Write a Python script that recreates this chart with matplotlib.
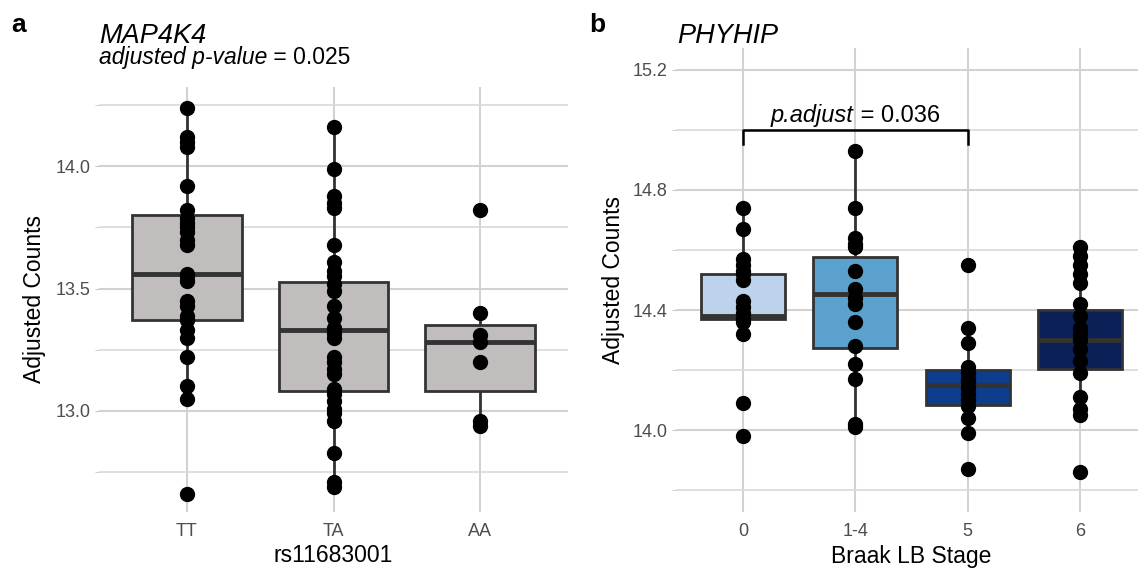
import matplotlib
matplotlib.use("Agg")
import matplotlib.pyplot as plt
from matplotlib.ticker import MultipleLocator

plt.rcParams['font.family'] = ['Liberation Sans', 'DejaVu Sans']

# panel a: MAP4K4 by rs11683001 genotype
genotypes = ['TT', 'TA', 'AA']
tt_vals = [14.24, 14.12, 14.10, 14.08, 13.92, 13.82, 13.79, 13.77, 13.75, 13.73,
           13.70, 13.68, 13.56, 13.55, 13.53, 13.45, 13.43, 13.39, 13.37, 13.33,
           13.30, 13.22, 13.10, 13.05, 12.66]
ta_vals = [14.16, 13.99, 13.88, 13.85, 13.83, 13.68, 13.61, 13.57, 13.55, 13.52,
           13.49, 13.43, 13.38, 13.34, 13.32, 13.30, 13.22, 13.20, 13.17, 13.15,
           13.09, 13.07, 13.04, 13.01, 12.99, 12.96, 12.83, 12.71, 12.69]
aa_vals = [13.82, 13.40, 13.31, 13.28, 13.20, 12.96, 12.94]
a_q1 = [13.37, 13.08, 13.08]
a_med = [13.56, 13.33, 13.28]
a_q3 = [13.80, 13.525, 13.35]
a_lo = [13.05, 12.69, 12.94]
a_hi = [14.24, 14.16, 13.40]

# panel b: PHYHIP by Braak LB stage
stages = ['0', '1-4', '5', '6']
s0_vals = [14.74, 14.67, 14.57, 14.55, 14.53, 14.52, 14.50, 14.43, 14.41, 14.39,
           14.37, 14.36, 14.32, 14.09, 13.98]
s14_vals = [14.93, 14.74, 14.64, 14.62, 14.61, 14.53, 14.47, 14.44, 14.42, 14.36,
            14.28, 14.22, 14.17, 14.02, 14.01]
s5_vals = [14.55, 14.34, 14.29, 14.21, 14.19, 14.17, 14.16, 14.14, 14.12, 14.10,
           14.08, 14.04, 13.99, 13.87]
s6_vals = [14.61, 14.58, 14.55, 14.52, 14.49, 14.42, 14.38, 14.34, 14.32, 14.30,
           14.27, 14.23, 14.19, 14.11, 14.07, 14.05, 13.86]
b_q1 = [14.37, 14.275, 14.085, 14.205]
b_med = [14.38, 14.455, 14.15, 14.30]
b_q3 = [14.52, 14.575, 14.20, 14.40]
b_lo = [14.32, 14.01, 13.99, 14.05]
b_hi = [14.74, 14.93, 14.34, 14.61]
b_fill = ['#BDD3EC', '#5BA1CD', '#0D3D8B', '#0C2058']

W, H = 1138, 569
fig = plt.figure(figsize=(W / 100, H / 100), dpi=100)


def px_axes(l, t, r, b):
    return fig.add_axes([l / W, 1 - b / H, (r - l) / W, (b - t) / H])


def style(ax, major, minor):
    ax.set_facecolor('white')
    for s in ax.spines.values():
        s.set_visible(False)
    ax.yaxis.set_major_locator(MultipleLocator(major))
    ax.yaxis.set_minor_locator(MultipleLocator(minor))
    ax.grid(True, which='major', color='#d2d2d2', lw=1.5, zorder=0)
    ax.grid(True, which='minor', axis='y', color='#d9d9d9', lw=1.2, zorder=0)
    ax.set_axisbelow(True)
    ax.tick_params(which='both', length=3, color='#c8c8c8', labelsize=13,
                   labelcolor='#4d4d4d', pad=3)
    ax.tick_params(axis='x', length=0, pad=8)
    ax.tick_params(which='minor', labelleft=False)


def boxes(ax, groups, q1, med, q3, lo, hi, fills):
    stats = []
    for i in range(len(groups)):
        stats.append(dict(q1=q1[i], med=med[i], q3=q3[i], whislo=lo[i], whishi=hi[i]))
    bp = ax.bxp(stats, positions=range(len(groups)), widths=0.75, showcaps=False,
                showfliers=False, patch_artist=True,
                boxprops=dict(edgecolor='#333333', lw=2),
                medianprops=dict(color='#333333', lw=3.5),
                whiskerprops=dict(color='#333333', lw=2))
    for patch, c in zip(bp['boxes'], fills):
        patch.set_facecolor(c)
        patch.set_zorder(2)
    for ln in bp['whiskers']:
        ln.set_zorder(1.5)
    for ln in bp['medians']:
        ln.set_zorder(2.5)


def dots(ax, groups):
    for i, vals in enumerate(groups):
        ax.plot([i] * len(vals), vals, 'o', color='black', ms=10, zorder=3)


def rich_text(x, y, parts, size, center=False):
    # lay out (text, italic) pieces one after another, in figure pixels
    renderer = fig.canvas.get_renderer()
    items = []
    for s, it in parts:
        t = fig.text(0, 0, s, fontsize=size, style='italic' if it else 'normal',
                     va='baseline')
        items.append((t, t.get_window_extent(renderer).width))
    total = sum(w for _, w in items)
    cx = x - total / 2 if center else x
    for t, w in items:
        t.set_position((cx / W, 1 - y / H))
        cx += w


# ---- panel a
ax1 = px_axes(99, 87, 568, 512)
style(ax1, 0.5, 0.25)
boxes(ax1, genotypes, a_q1, a_med, a_q3, a_lo, a_hi, ['#C1BDBC'] * 3)
dots(ax1, [tt_vals, ta_vals, aa_vals])
ax1.set_xlim(-0.6, 2.6)
ax1.set_ylim(12.587, 14.324)
ax1.set_xticks(range(3))
ax1.set_xticklabels(genotypes)
ax1.set_yticks([13.0, 13.5, 14.0])
ax1.set_yticklabels(['13.0', '13.5', '14.0'])

# ---- panel b
ax2 = px_axes(676, 48, 1147, 512)
style(ax2, 0.4, 0.2)
boxes(ax2, stages, b_q1, b_med, b_q3, b_lo, b_hi, b_fill)
dots(ax2, [s0_vals, s14_vals, s5_vals, s6_vals])
ax2.set_xlim(-0.6, 3.6)
ax2.set_ylim(13.728, 15.272)
ax2.set_xticks(range(4))
ax2.set_xticklabels(stages)
ax2.set_yticks([14.0, 14.4, 14.8, 15.2])
ax2.set_yticklabels(['14.0', '14.4', '14.8', '15.2'])

# significance bracket between stage 0 and 5
ax2.plot([0, 0, 2, 2], [14.953, 15.0, 15.0, 14.953], color='black', lw=1.8,
         zorder=4, clip_on=False)
bx = ax2.transData.transform((1, 15.0))
rich_text(bx[0], H - bx[1] - 8, [('p.adjust', True), (' = 0.036', False)], 17,
          center=True)

# ---- titles and labels
fig.text(11 / W, 1 - 32 / H, 'a', fontsize=19, fontweight='bold', va='baseline')
fig.text(589 / W, 1 - 32 / H, 'b', fontsize=19, fontweight='bold', va='baseline')
fig.text(99 / W, 1 - 43 / H, 'MAP4K4', fontsize=19.5, style='italic', va='baseline')
rich_text(99, 64, [('adjusted p-value', True), (' = 0.025', False)], 16.5)
fig.text(677 / W, 1 - 43 / H, 'PHYHIP', fontsize=19.5, style='italic', va='baseline')

fig.text(35 / W, 1 - 299 / H, 'Adjusted Counts', rotation=90, fontsize=16.5,
         ha='center', va='center')
fig.text(613 / W, 1 - 280 / H, 'Adjusted Counts', rotation=90, fontsize=16.5,
         ha='center', va='center')
fig.text(333 / W, 1 - 556 / H, 'rs11683001', fontsize=16.5, ha='center', va='center')
fig.text(911 / W, 1 - 556 / H, 'Braak LB Stage', fontsize=16.5, ha='center', va='center')

fig.savefig('out.png', dpi=100, facecolor='white')
